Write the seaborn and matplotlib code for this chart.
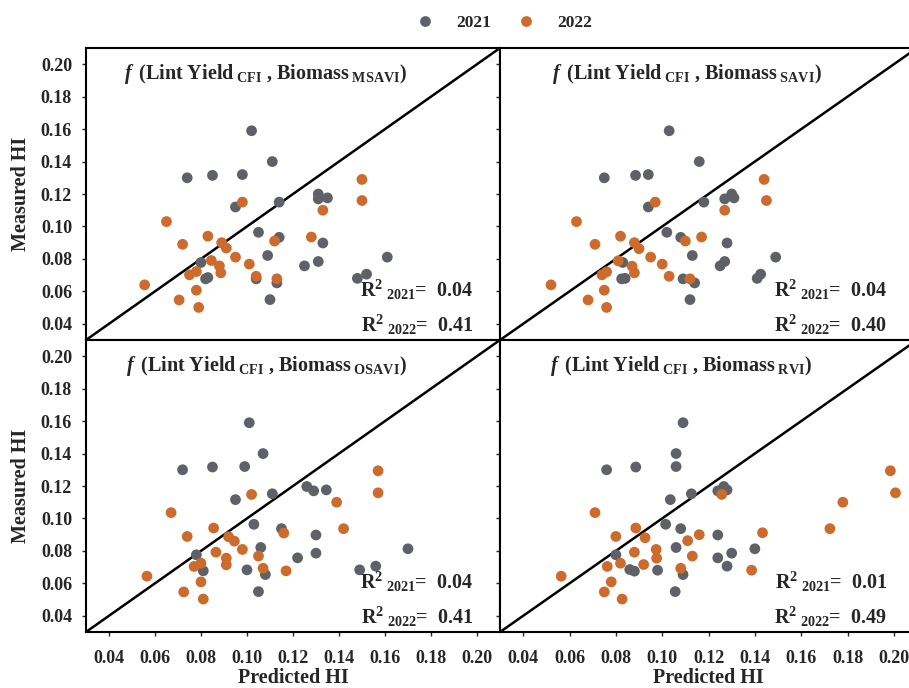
import numpy as np
import pandas as pd
import matplotlib
matplotlib.use('Agg')
import matplotlib.pyplot as plt
import seaborn as sns

# Predicted / measured HI
# MSAVI panel
msavi_pred_2021 = [0.102, 0.111, 0.074, 0.085, 0.098, 0.095, 0.114, 0.131, 0.131, 0.135, 0.105, 0.114,
                   0.133, 0.109, 0.080, 0.131, 0.125, 0.082, 0.083, 0.104, 0.113, 0.110, 0.148, 0.152, 0.161]
msavi_meas_2021 = [0.159, 0.140, 0.130, 0.1315, 0.132, 0.112, 0.115, 0.120, 0.117, 0.1176, 0.0964, 0.0933,
                   0.0898, 0.0821, 0.0778, 0.0784, 0.0757, 0.0677, 0.0685, 0.0677, 0.0652, 0.0549, 0.068, 0.0706, 0.0811]
msavi_pred_2022 = [0.150, 0.150, 0.098, 0.133, 0.065, 0.083, 0.128, 0.072, 0.112, 0.089, 0.091, 0.095,
                   0.0845, 0.101, 0.088, 0.0886, 0.075, 0.078, 0.104, 0.113, 0.0555, 0.078, 0.0705, 0.079]
msavi_meas_2022 = [0.129, 0.116, 0.115, 0.110, 0.103, 0.094, 0.0935, 0.089, 0.091, 0.090, 0.0867, 0.0811,
                   0.079, 0.0768, 0.0757, 0.0714, 0.0702, 0.0722, 0.0693, 0.0677, 0.064, 0.0607, 0.0547, 0.0501]

# SAVI panel
savi_pred_2021 = [0.103, 0.116, 0.075, 0.0885, 0.094, 0.094, 0.118, 0.130, 0.127, 0.131, 0.102, 0.108,
                  0.128, 0.113, 0.083, 0.127, 0.125, 0.0825, 0.084, 0.109, 0.114, 0.112, 0.141, 0.1425, 0.149]
savi_meas_2021 = [0.159, 0.140, 0.130, 0.1315, 0.132, 0.112, 0.115, 0.120, 0.117, 0.1176, 0.0964, 0.0933,
                  0.0898, 0.0821, 0.0778, 0.0784, 0.0757, 0.0677, 0.068, 0.0677, 0.0652, 0.0549, 0.068, 0.0706, 0.0811]
savi_pred_2022 = [0.144, 0.145, 0.097, 0.127, 0.063, 0.082, 0.117, 0.071, 0.110, 0.088, 0.090, 0.095,
                  0.081, 0.100, 0.087, 0.088, 0.074, 0.076, 0.103, 0.112, 0.052, 0.075, 0.068, 0.076]
savi_meas_2022 = [0.129, 0.116, 0.115, 0.110, 0.103, 0.094, 0.0935, 0.089, 0.091, 0.090, 0.0863, 0.0811,
                  0.0788, 0.0768, 0.0755, 0.0714, 0.0702, 0.072, 0.0693, 0.0677, 0.064, 0.0607, 0.0547, 0.0501]

# OSAVI panel
osavi_pred_2021 = [0.101, 0.107, 0.072, 0.085, 0.099, 0.095, 0.111, 0.126, 0.129, 0.1345, 0.103, 0.115,
                   0.130, 0.106, 0.078, 0.130, 0.122, 0.081, 0.100, 0.108, 0.105, 0.149, 0.156, 0.170]
osavi_meas_2021 = [0.159, 0.140, 0.130, 0.1317, 0.132, 0.1116, 0.1152, 0.1197, 0.117, 0.1176, 0.0964, 0.0937,
                   0.0898, 0.0821, 0.0776, 0.0786, 0.0757, 0.0677, 0.0683, 0.0654, 0.0549, 0.0683, 0.0706, 0.0813]
osavi_pred_2022 = [0.157, 0.157, 0.102, 0.139, 0.067, 0.0855, 0.142, 0.074, 0.116, 0.092, 0.0945, 0.098,
                   0.0865, 0.105, 0.091, 0.091, 0.077, 0.080, 0.107, 0.117, 0.0565, 0.080, 0.0725, 0.081]
osavi_meas_2022 = [0.1294, 0.1158, 0.1148, 0.110, 0.1036, 0.0941, 0.0937, 0.0889, 0.091, 0.0887, 0.086, 0.0809,
                   0.0792, 0.0768, 0.0755, 0.0714, 0.0704, 0.0724, 0.0693, 0.0677, 0.0644, 0.0609, 0.0547, 0.0503]

# RVI panel
rvi_pred_2021 = [0.109, 0.106, 0.106, 0.076, 0.0886, 0.1035, 0.1126, 0.124, 0.1266, 0.128, 0.1015, 0.108,
                 0.124, 0.106, 0.080, 0.130, 0.124, 0.086, 0.088, 0.098, 0.109, 0.1056, 0.128, 0.140]
rvi_meas_2021 = [0.159, 0.140, 0.132, 0.130, 0.1317, 0.1116, 0.1152, 0.117, 0.1197, 0.1176, 0.0964, 0.0937,
                 0.0898, 0.0821, 0.0776, 0.0786, 0.0757, 0.0685, 0.0675, 0.0681, 0.0654, 0.0549, 0.0706, 0.0813]
rvi_pred_2022 = [0.1985, 0.2007, 0.1257, 0.178, 0.071, 0.0886, 0.1724, 0.080, 0.116, 0.0926, 0.111, 0.0974,
                 0.088, 0.113, 0.0976, 0.092, 0.0763, 0.082, 0.108, 0.1386, 0.0564, 0.078, 0.075, 0.0827, 0.1433]
rvi_meas_2022 = [0.1294, 0.1158, 0.1148, 0.110, 0.1036, 0.0941, 0.0937, 0.0889, 0.090, 0.0881, 0.0863, 0.0809,
                 0.0792, 0.0768, 0.0755, 0.0716, 0.0704, 0.0724, 0.0693, 0.0681, 0.0644, 0.0609, 0.0547, 0.0503, 0.0912]

panel_names = ['MSAVI', 'SAVI', 'OSAVI', 'RVI']
r2_2021 = ['0.04', '0.04', '0.04', '0.01']
r2_2022 = ['0.41', '0.40', '0.41', '0.49']
tick_vals = [0.04, 0.06, 0.08, 0.10, 0.12, 0.14, 0.16, 0.18, 0.20]

panels = [
    (msavi_pred_2021, msavi_meas_2021, msavi_pred_2022, msavi_meas_2022),
    (savi_pred_2021, savi_meas_2021, savi_pred_2022, savi_meas_2022),
    (osavi_pred_2021, osavi_meas_2021, osavi_pred_2022, osavi_meas_2022),
    (rvi_pred_2021, rvi_meas_2021, rvi_pred_2022, rvi_meas_2022),
]

sns.set_style('ticks')
plt.rcParams['font.family'] = ['Liberation Serif', 'DejaVu Serif']
plt.rcParams['font.weight'] = 'bold'
plt.rcParams['mathtext.fontset'] = 'custom'
plt.rcParams['mathtext.rm'] = 'Liberation Serif:bold'
plt.rcParams['mathtext.bf'] = 'Liberation Serif:bold'
plt.rcParams['mathtext.it'] = 'Liberation Serif:bold:italic'

palette = {'2021': '#5f6169', '2022': '#cc6b2b'}

fig = plt.figure(figsize=(9.09, 6.88), dpi=100)

# axes boxes in figure fractions (right column runs off the edge like the original)
boxes = [
    [0.0946, 0.5058, 0.4554, 0.4244],
    [0.5501, 0.5058, 0.4587, 0.4244],
    [0.0946, 0.0814, 0.4554, 0.4244],
    [0.5501, 0.0814, 0.4587, 0.4244],
]
title_x = [0.092, 0.125, 0.097, 0.12]
r2_x = [0.935, 0.928, 0.935, 0.928]

handles = None
for i, (box, name, vals) in enumerate(zip(boxes, panel_names, panels)):
    ax = fig.add_axes(box)
    p21, m21, p22, m22 = vals
    df = pd.DataFrame({
        'pred': list(p21) + list(p22),
        'meas': list(m21) + list(m22),
        'year': ['2021'] * len(p21) + ['2022'] * len(p22),
    })
    ax.axline((0, 0), slope=1, color='black', lw=1.8, zorder=1)
    sns.scatterplot(data=df, x='pred', y='meas', hue='year', palette=palette,
                    s=60, edgecolor='none', ax=ax, zorder=3)
    if handles is None:
        handles, labels = ax.get_legend_handles_labels()
    ax.get_legend().remove()

    ax.set_xlim(0.03, 0.21)
    ax.set_ylim(0.03, 0.21)
    ax.set_xticks(tick_vals)
    ax.set_yticks(tick_vals)
    ax.tick_params(axis='both', direction='out', length=3, width=1, labelsize=13)
    ax.tick_params(axis='x', pad=10)
    ax.tick_params(axis='y', pad=7)
    for sp in ax.spines.values():
        sp.set_linewidth(1.5)
        sp.set_color('black')

    if i % 2 == 0:
        ax.set_yticklabels([f'{v:.2f}' for v in tick_vals])
        ax.set_ylabel('Measured HI', fontsize=14.5, fontweight='bold', labelpad=7)
    else:
        ax.set_yticklabels([])
        ax.set_ylabel('')
    if i >= 2:
        ax.set_xticklabels([f'{v:.2f}' for v in tick_vals])
        ax.set_xlabel('Predicted HI', fontsize=14.5, fontweight='bold', labelpad=1)
    else:
        ax.set_xticklabels([])
        ax.set_xlabel('')

    title = r'$f\,$ (Lint Yield${}_{\mathrm{\ CFI}}$ , Biomass${}_{\mathrm{\ ' + name + r'}}$)'
    ax.text(title_x[i], 0.895, title, transform=ax.transAxes, fontsize=14.5,
            fontweight='bold', ha='left', va='baseline')
    ax.text(r2_x[i], 0.147, r'R$^{2}$${}_{\ 2021}$=  ' + r2_2021[i], transform=ax.transAxes,
            fontsize=14.5, fontweight='bold', ha='right', va='baseline')
    ax.text(r2_x[i], 0.027, r'R$^{2}$${}_{\ 2022}$=  ' + r2_2022[i], transform=ax.transAxes,
            fontsize=14.5, fontweight='bold', ha='right', va='baseline')

fig.legend(handles, labels, loc='center', bbox_to_anchor=(0.5545, 0.9666), ncol=2,
           frameon=False, handlelength=1, handletextpad=1.3, columnspacing=1.5,
           prop={'family': 'Liberation Serif', 'weight': 'bold', 'size': 12.5})

fig.savefig('out.png', dpi=100)
